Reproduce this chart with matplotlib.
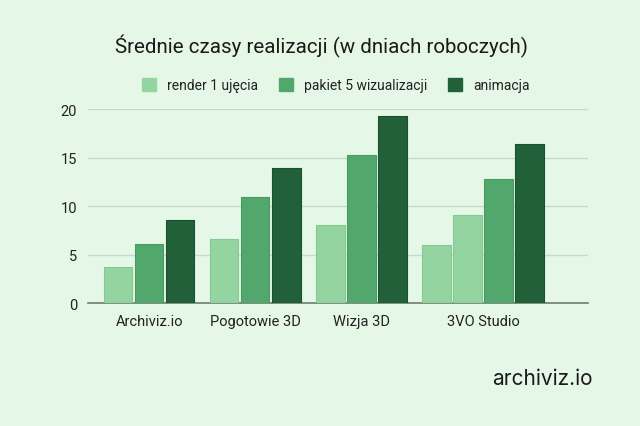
import matplotlib
matplotlib.use("Agg")
import matplotlib.pyplot as plt

# dane
studia = ["Archiviz.io", "Pogotowie 3D", "Wizja 3D", "3VO Studio"]
serie = ["render 1 ujęcia", "pakiet 5 wizualizacji", "animacja"]
# wartości dla każdego studia (3VO Studio ma dodatkowy jasny słupek)
wartosci = [
    [3.7, 6.1, 8.6],
    [6.6, 10.9, 13.9],
    [8.0, 15.3, 19.3],
    [6.0, 9.1, 12.8, 16.4],
]
seria_slupka = [
    [0, 1, 2],
    [0, 1, 2],
    [0, 1, 2],
    [0, 0, 1, 2],
]
kolory = ["#93d4a1", "#52a76d", "#22603a"]
kolory_krawedzi = ["#86c794", "#4a9a63", "#1b5030"]
tlo = "#e5f8e7"

plt.rcParams['font.family'] = ['Roboto', 'DejaVu Sans']

fig = plt.figure(figsize=(6.4, 4.27), dpi=100, facecolor=tlo)
ax = fig.add_axes([0.1375, 0.288, 0.781, 0.454])
ax.set_facecolor(tlo)

przerwa = 0.42
szer = 0.91
start = 0.0
srodki = []
for vals, idx in zip(wartosci, seria_slupka):
    xs = [start + i for i in range(len(vals))]
    for x, v, s in zip(xs, vals, idx):
        ax.bar(x, v, width=szer, color=kolory[s], edgecolor=kolory_krawedzi[s],
               linewidth=0.8, joinstyle='round', zorder=3)
    srodki.append((xs[0] + xs[-1]) / 2)
    start = xs[-1] + 1 + przerwa

ax.set_xlim(-0.977, 15.14)
ax.set_ylim(0, 20)
ax.set_yticks([0, 5, 10, 15, 20])
ax.set_xticks(srodki)
ax.set_xticklabels(studia)
ax.grid(axis='y', color='#c6dcc9', linewidth=1.0, zorder=0)
ax.tick_params(axis='both', length=0, labelsize=10.5, colors='#222222')
ax.tick_params(axis='y', pad=8)
ax.tick_params(axis='x', pad=8)
for s in ['top', 'right', 'left']:
    ax.spines[s].set_visible(False)
ax.spines['bottom'].set_color('#6f7a70')
ax.spines['bottom'].set_linewidth(1.2)

# legenda
uchwyty = [plt.Rectangle((0, 0), 1, 1, color=c) for c in kolory]
fig.legend(uchwyty, serie, loc='center', bbox_to_anchor=(0.525, 0.798), ncol=3,
           frameon=False, fontsize=10, handlelength=1.0, handleheight=1.0,
           handletextpad=0.8, columnspacing=1.5, labelcolor='#222222')

fig.text(0.502, 0.892, "Średnie czasy realizacji (w dniach roboczych)",
         ha='center', va='center', fontsize=14.8, color='#1a1a1a')
fig.text(0.847, 0.113, "archiviz.io", ha='center', va='center', fontsize=15,
         color='#1a1a1a', family=['Inter', 'DejaVu Sans'])

fig.savefig("out.png", dpi=100, facecolor=tlo)
